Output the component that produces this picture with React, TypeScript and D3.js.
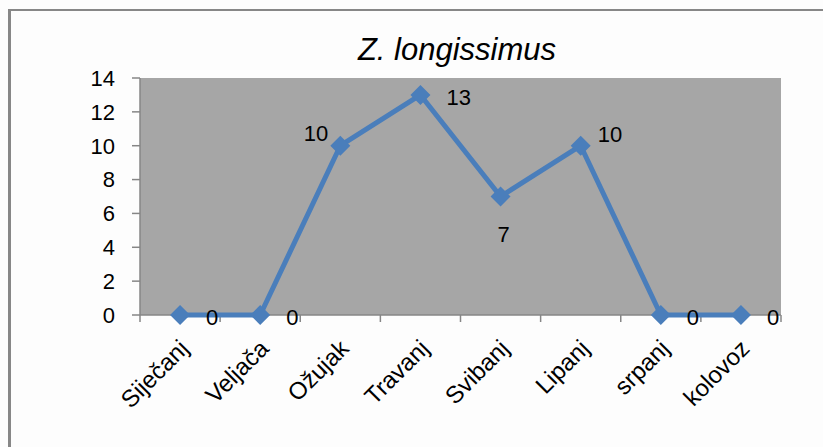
import React from 'react';
import * as d3 from 'd3';

const title = 'Z. longissimus';
const months = ['Siječanj', 'Veljača', 'Ožujak', 'Travanj', 'Svibanj', 'Lipanj', 'srpanj', 'kolovoz'];
const counts = [0, 0, 10, 13, 7, 10, 0, 0];
const yTicks = [0, 2, 4, 6, 8, 10, 12, 14];
const labelPlacement = ['right', 'right', 'left', 'right', 'below', 'aboveRight', 'right', 'right'];

const FONT = '"Liberation Sans", Arial, sans-serif';

export default function App() {
  const W = 823, H = 447;
  const plot = { left: 140, right: 781, top: 78, bottom: 315 };
  const x = d3.scaleBand<string>().domain(months).range([plot.left, plot.right]);
  const y = d3.scaleLinear().domain([0, 14]).range([plot.bottom, plot.top]);
  const cx = (i: number) => (x(months[i]) as number) + x.bandwidth() / 2;
  const line = d3.line<number>().x((_, i) => cx(i)).y((d) => y(d));
  const boundaries = months.map((m) => x(m) as number).concat([plot.right]);
  const r = 10;
  const diamond = `M0,${-r}L${r},0L0,${r}L${-r},0Z`;

  const labelPos = (i: number) => {
    const px = cx(i), py = y(counts[i]);
    switch (labelPlacement[i]) {
      case 'left': return { x: px - 12, y: py - 13, anchor: 'end' };
      case 'aboveRight': return { x: px + 17, y: py - 12, anchor: 'start' };
      case 'below': return { x: px + 3, y: py + 38, anchor: 'middle' };
      default: return { x: px + 26, y: py + 2, anchor: 'start' };
    }
  };

  return (
    <svg width={W} height={H} style={{ position: 'absolute', left: 0, top: 0, background: '#fff' }} fontFamily={FONT}>
      <rect x={0} y={0} width={W} height={H} fill="#fdfdfd" />
      <line x1={9.5} y1={10} x2={9.5} y2={H} stroke="#878787" strokeWidth={3} />
      <line x1={8} y1={10} x2={W} y2={10} stroke="#878787" strokeWidth={2} />
      <text x={457} y={60} textAnchor="middle" fontSize={31} fontStyle="italic" fill="#000">{title}</text>
      <rect x={plot.left} y={plot.top} width={plot.right - plot.left} height={plot.bottom - plot.top} fill="#a6a6a6" />
      {/* y axis */}
      <line x1={plot.left} y1={plot.top} x2={plot.left} y2={plot.bottom} stroke="#868686" strokeWidth={1.5} />
      {yTicks.map((t) => (
        <g key={t}>
          <line x1={plot.left - 8} x2={plot.left} y1={y(t)} y2={y(t)} stroke="#868686" strokeWidth={1.5} />
          <text x={115} y={y(t)} dy="0.36em" textAnchor="end" fontSize={22} fill="#000">{t}</text>
        </g>
      ))}
      {/* x axis */}
      <line x1={plot.left} y1={plot.bottom} x2={plot.right} y2={plot.bottom} stroke="#868686" strokeWidth={1.5} />
      {boundaries.map((b, i) => (
        <line key={i} x1={b} x2={b} y1={plot.bottom} y2={plot.bottom + 7} stroke="#868686" strokeWidth={1.5} />
      ))}
      {months.map((m, i) => (
        <text key={m} transform={`translate(${cx(i) + 10},${350}) rotate(-45)`} textAnchor="end" fontSize={24} fill="#000">{m}</text>
      ))}
      <path d={line(counts) || ''} fill="none" stroke="#4a7ebb" strokeWidth={5} strokeLinejoin="round" />
      {counts.map((c, i) => (
        <path key={i} d={diamond} transform={`translate(${cx(i)},${y(c)})`} fill="#4a7ebb" />
      ))}
      {counts.map((c, i) => {
        const p = labelPos(i);
        return (
          <text key={i} x={p.x} y={p.y} dy="0.36em" textAnchor={p.anchor} fontSize={22} fill="#000">{c}</text>
        );
      })}
    </svg>
  );
}
